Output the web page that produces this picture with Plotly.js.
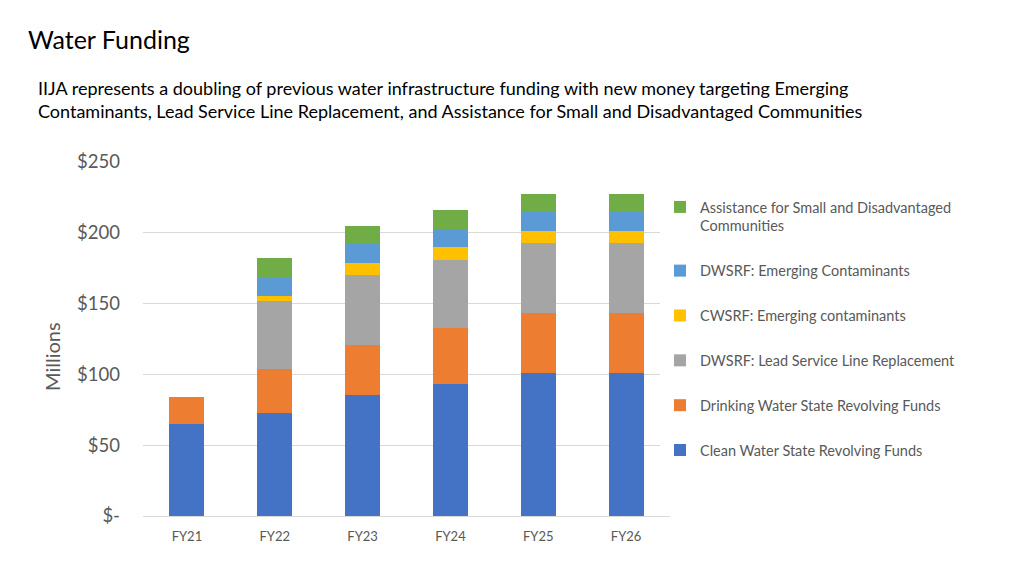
<!DOCTYPE html>
<html>
<head>
<meta charset="utf-8">
<script src="https://cdn.plot.ly/plotly-3.0.1.min.js"></script>
<style>html,body{margin:0;padding:0;background:#fff;}#chart{width:1024px;height:576px;}</style>
</head>
<body>
<div id="chart"></div>
<script>
const years = ["FY21", "FY22", "FY23", "FY24", "FY25", "FY26"];
const cleanWaterSRF = [65, 73, 85.5, 93.5, 101, 101];
const drinkingWaterSRF = [19, 30.5, 35.5, 39.5, 42.5, 42.5];
const dwsrfLeadLine = [0, 48, 49, 48, 49, 49];
const cwsrfEmerging = [0, 4, 9, 9, 9, 9];
const dwsrfEmerging = [0, 12.5, 13, 13, 13, 13];
const smallDisadvantaged = [0, 14, 13, 13, 13, 13];
const yTickVals = [0, 50, 100, 150, 200, 250];
const yTickText = ["$-", "$50", "$100", "$150", "$200", "$250"];

const FONT = "Lato, 'Open Sans', sans-serif";
const seriesDefs = [
  {name: "Clean Water State Revolving Funds", y: cleanWaterSRF, color: "#4472C4"},
  {name: "Drinking Water State Revolving Funds", y: drinkingWaterSRF, color: "#ED7D31"},
  {name: "DWSRF: Lead Service Line Replacement", y: dwsrfLeadLine, color: "#A5A5A5"},
  {name: "CWSRF: Emerging contaminants", y: cwsrfEmerging, color: "#FFC000"},
  {name: "DWSRF: Emerging Contaminants", y: dwsrfEmerging, color: "#5B9BD5"},
  {name: "Assistance for Small and Disadvantaged<br>Communities", y: smallDisadvantaged, color: "#70AD47"}
];
const traces = seriesDefs.map((s, i) => ({
  type: "bar", x: years, y: s.y, name: s.name,
  marker: {color: s.color}, legendgroup: "g" + i, legendrank: seriesDefs.length - i,
  hoverinfo: "x+y+name"
}));

const layout = {
  width: 1024, height: 576,
  paper_bgcolor: "#fff", plot_bgcolor: "#fff",
  margin: {l: 143, r: 354, t: 162, b: 60},
  barmode: "stack", bargap: 0.6,
  font: {family: FONT, color: "#595959"},
  title: {text: "Water Funding", xref: "container", yref: "container", x: 28/1024, xanchor: "left",
          y: 1 - 40/576, yanchor: "middle", font: {family: FONT, size: 25, color: "#000"}},
  xaxis: {tickfont: {size: 13, color: "#595959"}, showline: false, ticks: "", fixedrange: true,
          ticklabelstandoff: 11},
  yaxis: {range: [0, 250], tickvals: yTickVals, ticktext: yTickText, tickfont: {size: 18.5, color: "#595959"},
          gridcolor: "#D9D9D9", zeroline: true, zerolinecolor: "#D9D9D9", showline: false, ticks: "",
          ticklabelstandoff: 22},
  legend: {x: 0.981, xanchor: "left", y: 1 - (201 - 10 - 162) / 354, yanchor: "top", traceorder: "grouped",
           valign: "top", tracegroupgap: 23, font: {size: 14.5, color: "#595959"}, itemwidth: 30},
  annotations: [{
    text: "IIJA represents a doubling of previous water infrastructure funding with new money targeting Emerging<br>Contaminants, Lead Service Line Replacement, and Assistance for Small and Disadvantaged Communities",
    xref: "paper", yref: "paper", x: (36 - 143) / 527, y: 1 + (162 - 99) / 354,
    xanchor: "left", yanchor: "middle", align: "left", showarrow: false,
    font: {family: FONT, size: 18, color: "#000"}
  }, {
    text: "Millions", textangle: -90,
    xref: "paper", yref: "paper", x: (52 - 143) / 527, y: (516 - 357) / 354,
    xanchor: "center", yanchor: "middle", showarrow: false,
    font: {family: FONT, size: 20, color: "#595959"}
  }]
};
Plotly.newPlot("chart", traces, layout, {displayModeBar: false, staticPlot: true});
</script>
</body>
</html>
